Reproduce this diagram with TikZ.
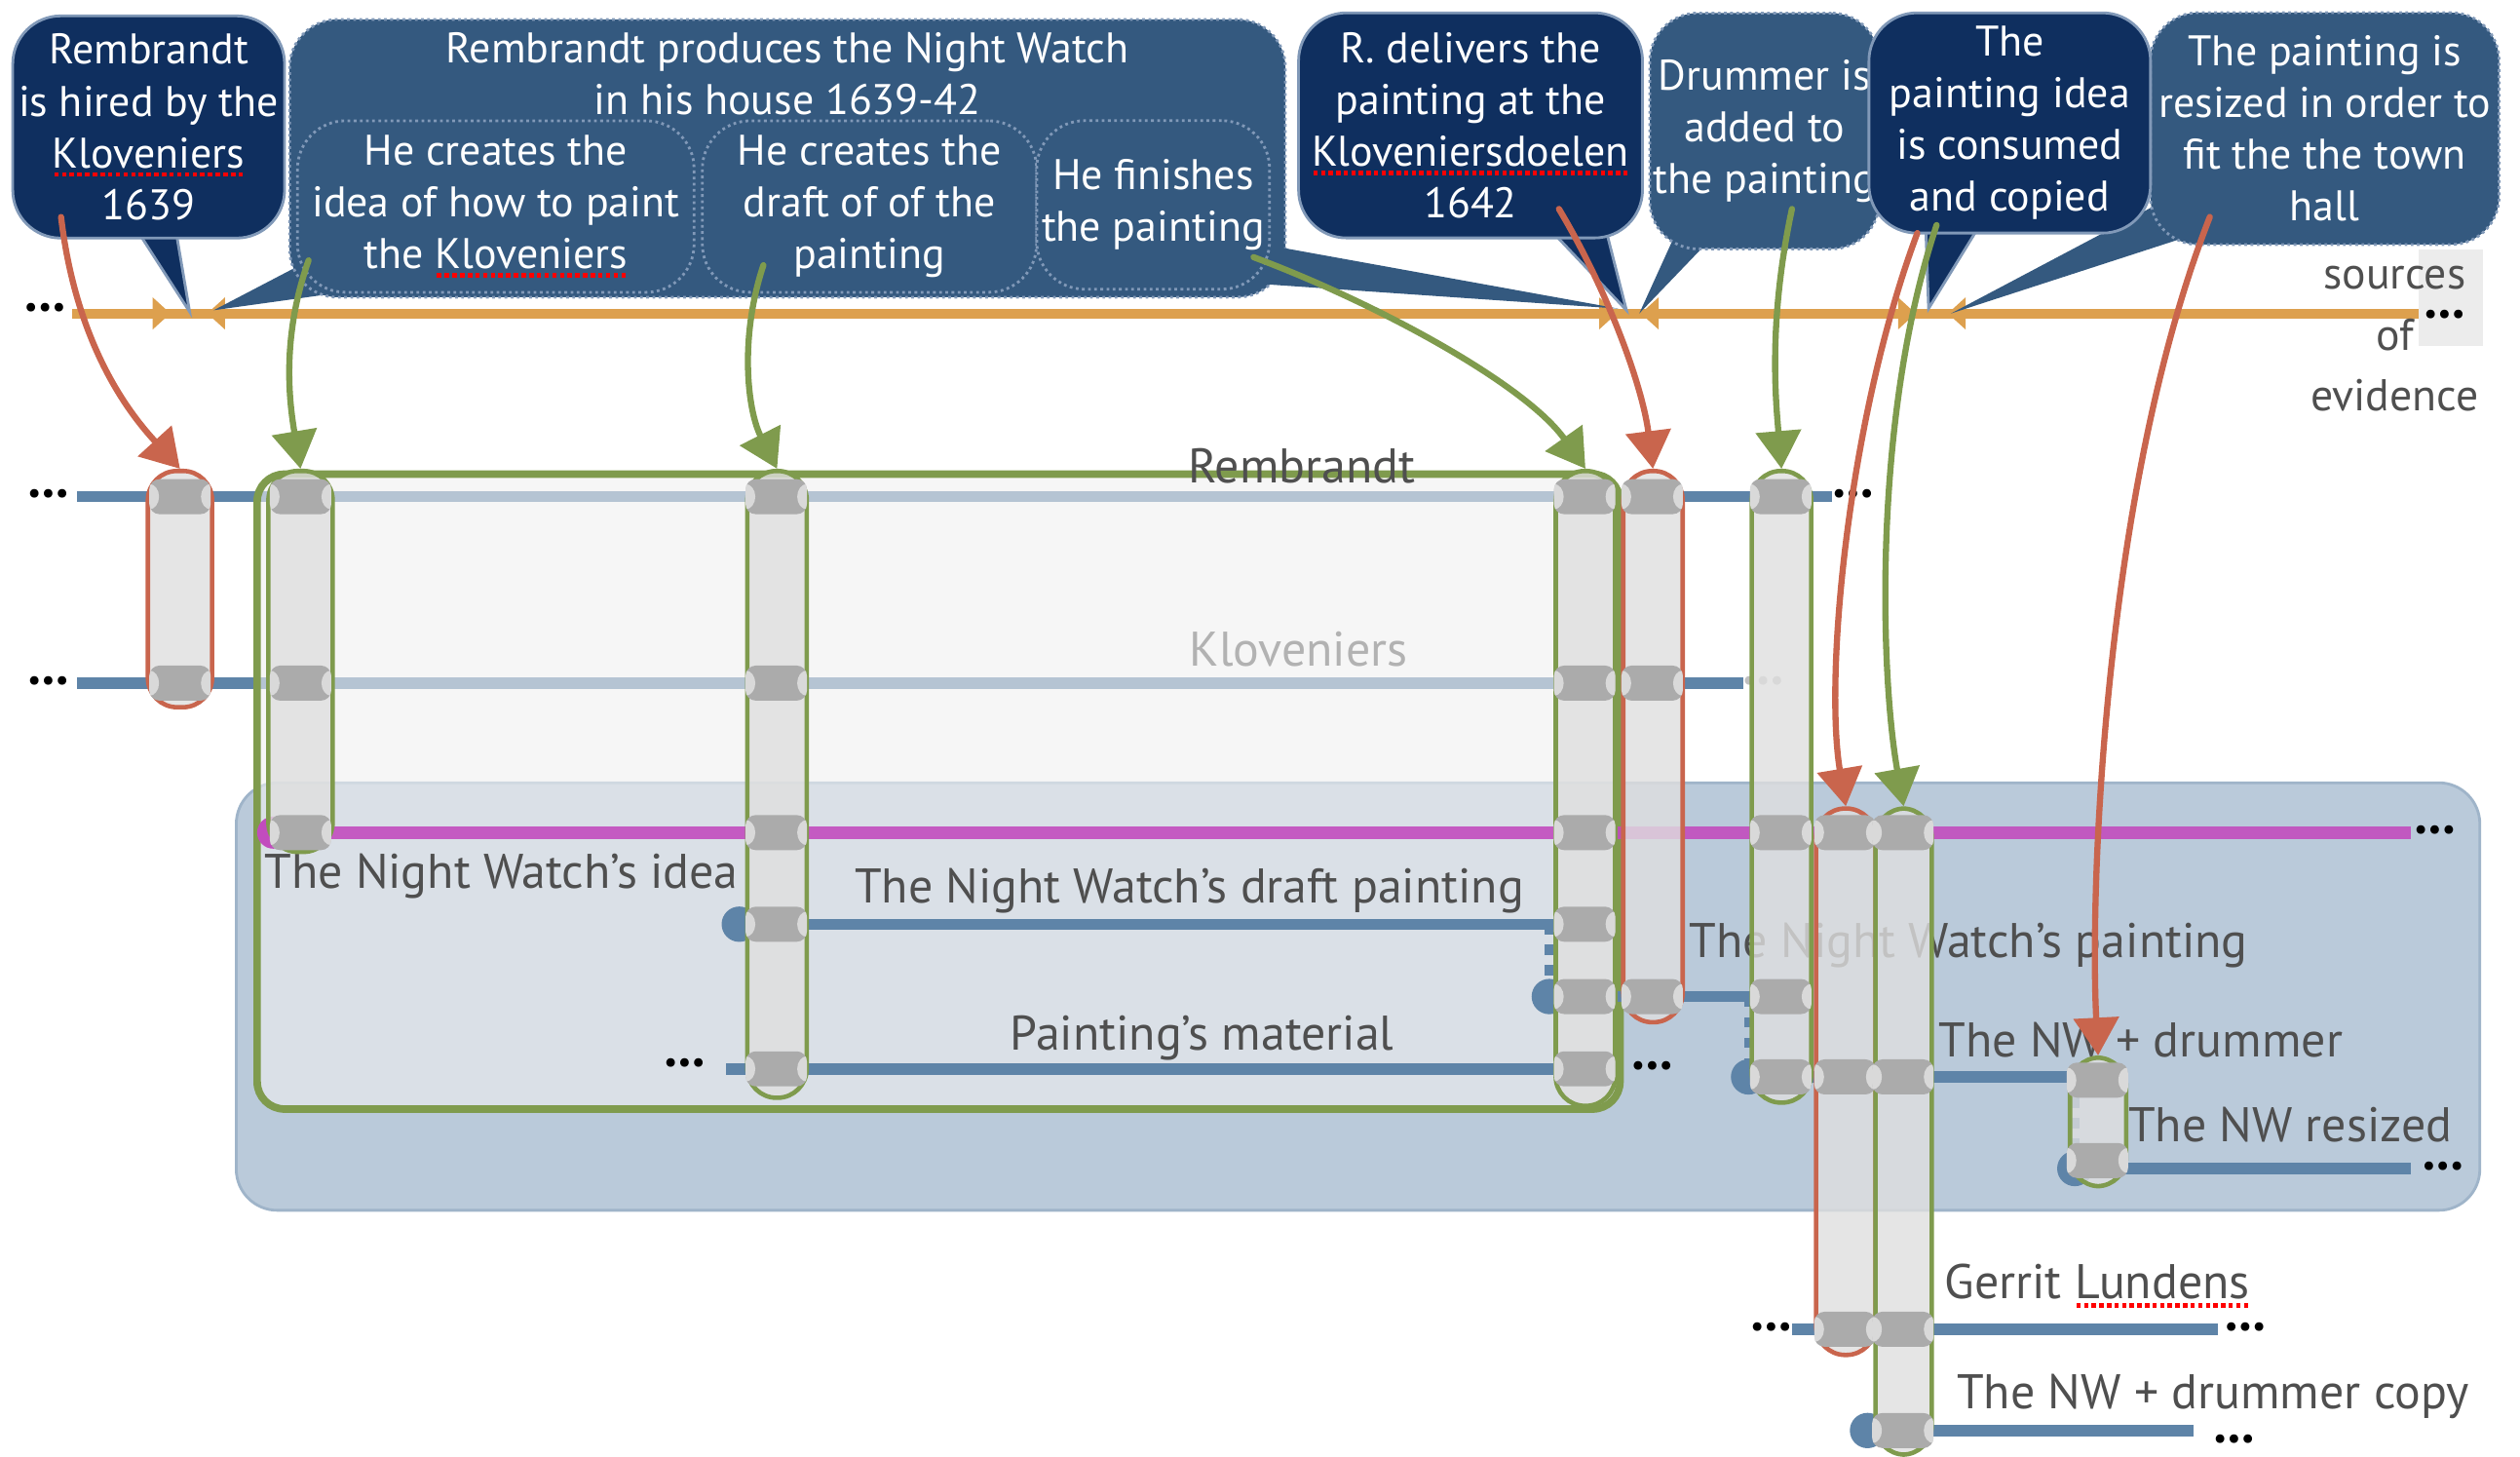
\documentclass[tikz,border=0pt]{standalone}
\usepackage{fontspec}
\setmainfont{PT Sans}
\usetikzlibrary{calc,positioning,fit,arrows.meta}

\definecolor{navybub}{HTML}{0F2F5F}
\definecolor{midbub}{HTML}{34597F}
\definecolor{bubedge}{HTML}{8199B8}
\definecolor{srcorange}{HTML}{DDA04E}
\definecolor{tlblue}{HTML}{5E84A8}
\definecolor{nwpink}{HTML}{C24CBE}
\definecolor{regblue}{HTML}{BACADA}
\definecolor{regedge}{HTML}{9FB4C9}
\definecolor{evgreen}{HTML}{7F9B4D}
\definecolor{evred}{HTML}{C9654D}
\definecolor{labgray}{HTML}{4F4F4F}
\definecolor{spoolgray}{HTML}{ABABAB}

% red dotted marks under unknown words
\newcommand\squig[2]{\setbox0\hbox{#2}\rlap{\color{red}\raisebox{-2.6pt}{\hbox to \wd0{\xleaders\hbox to 2.2pt{\hss\rule{1.3pt}{1.3pt}\hss}\hfill}}}\textcolor{#1}{#2}}

\tikzset{
    >={Triangle[length=11pt,width=13pt]},
    bubtext/.style={
        font=\fontsize{12.5}{15.1}\selectfont,
        text=white,
        align=center,
        inner sep=1pt
    },
    darkbubble/.style={
        bubtext,
        rectangle,
        rounded corners=14pt,
        fill=navybub,
        draw=bubedge, line width=.8pt
    },
    midbubble/.style={
        bubtext,
        rectangle,
        rounded corners=14pt,
        fill=midbub,
        draw=bubedge, densely dotted, line width=.8pt
    },
    darktail/.style={fill=navybub, draw=bubedge, line width=.8pt},
    midtail/.style={fill=midbub},
    srcline/.style={draw=srcorange, line width=2.8pt},
    srcmark/.style={fill=srcorange},
    timeline/.style={draw=tlblue, line width=3.3pt},
    tlstart/.style={fill=tlblue},
    tldash/.style={draw=tlblue, line width=2.5pt, dash pattern=on 3pt off 3pt},
    idealine/.style={draw=nwpink, line width=3.6pt, opacity=.9},
    tllabel/.style={font=\fontsize{14.2}{16}\selectfont, text=labgray, inner sep=0},
    more/.style={font=\fontsize{9}{9}\selectfont, inner sep=0},
    region/.style={fill=regblue, draw=regedge, line width=.8pt, rounded corners=12pt},
    prodbox/.style={
        rectangle,
        rounded corners=8pt,
        inner sep=0,
        draw=evgreen, line width=2.2pt,
        fill=gray!12, fill opacity=.6
    },
    colbox/.style={
        rectangle,
        rounded corners=.3cm,
        inner sep=0,
        line width=1.3pt,
        fill=gray!25, fill opacity=.8
    },
    redcol/.style={colbox, draw=evred},
    greencol/.style={colbox, draw=evgreen},
    spool/.style={
        rectangle,
        rounded corners=3pt,
        inner sep=0,
        fill=spoolgray,
        minimum width=.63cm,
        minimum height=.36cm,
        path picture={
            \fill[white, opacity=.55] (path picture bounding box.west) ellipse (.1cm and .13cm);
            \fill[white, opacity=.55] (path picture bounding box.east) ellipse (.1cm and .13cm);
        }
    },
    evarrow/.style={->, line width=1.8pt, line cap=round},
    redarrow/.style={evarrow, draw=evred},
    greenarrow/.style={evarrow, draw=evgreen}
}

\begin{document}
\begin{tikzpicture}[x=0.016492cm, y=-0.016492cm]
\useasboundingbox (0,0) rectangle (1568,906);

% sources of evidence
\fill[gray!15] (1505,155) rectangle (1545,215);
\coordinate (srcL) at (45,195);
\coordinate (srcR) at (1505,195);
\draw[srcline] (srcL) -- (srcR);
\foreach \a/\b in {104/131,1004/1023,1190/1214} {
    \fill[srcmark] (\a-9,185) -- (\a+2,195) -- (\a-9,205) -- cycle;
    \fill[srcmark] (\b+9,185) -- (\b-2,195) -- (\b+9,205) -- cycle;
}
\node[more] (srcdotsL) at (28,193) {\textbullet\textbullet\textbullet};
\node[more] (srcdotsR) at (1521,197) {\textbullet\textbullet\textbullet};
\node[tllabel, align=center, font=\fontsize{13}{17.8}\selectfont] (srclab) at (1490,211) {sources\\of\\evidence};

\coordinate (t1) at (118,194);
\coordinate (t2) at (133,193);
\coordinate (t3) at (1007,192);
\coordinate (t4) at (1012,193);
\coordinate (t5) at (1020,195);
\coordinate (t6) at (1200,192);
\coordinate (t7) at (1214,195);

% production bubble
\path[midtail] (200,158) -- (t2) -- (212,182) -- cycle;
\node[midbubble, minimum width=10.22cm, minimum height=2.85cm] (bProd) at (490,98.5) {};
\node[bubtext, below=3pt of bProd.north] (bProdText) {Rembrandt produces the Night Watch\\in his house 1639-42};
\node[midbubble, minimum width=4.07cm, minimum height=1.76cm] (bIdea) at (308.5,128.5) {He creates the\\idea of how to paint\\the \squig{white}{Kloveniers}};
\node[midbubble, minimum width=3.43cm, minimum height=1.76cm] (bDraft) at (541,128.5) {He creates the\\draft of of the\\painting};
\path[midtail] (775,150) -- (t3) -- (775,176) -- cycle;
\node[midbubble, minimum width=2.39cm, minimum height=1.73cm] (bFinish) at (717.5,127.5) {He finishes\\the painting};

% the other bubbles
\path[darktail] (80,135) -- (t1) -- (108,135) -- cycle;
\node[darkbubble, minimum width=2.79cm, minimum height=2.28cm] (bHired) at (92.5,79) {Rembrandt\\is hired by the\\\squig{white}{Kloveniers}\\1639};
\path[midtail] (1045,140) -- (t5) -- (1068,145) -- cycle;
\node[midbubble, minimum width=2.31cm, minimum height=2.42cm] (bDrum) at (1098,81.5) {Drummer is\\added to\\the painting};
\path[midtail] (1352,122) -- (t7) -- (1368,145) -- cycle;
\node[midbubble, minimum width=3.58cm, minimum height=2.38cm] (bResize) at (1446.5,80) {The painting is\\resized in order to\\fit the the town\\hall};
\path[darktail] (960,138) -- (t4) -- (998,138) -- cycle;
\node[darkbubble, minimum width=3.53cm, minimum height=2.31cm] (bDeliver) at (915,78) {R. delivers the\\painting at the\\\squig{white}{Kloveniersdoelen}\\1642};
\path[darktail] (1198,135) -- (t6) -- (1235,135) -- cycle;
\node[darkbubble, minimum width=2.89cm, minimum height=2.26cm] (bCopy) at (1250.5,76.5) {The\\painting idea\\is consumed\\and copied};

% Night Watch region
\draw[region] (147,487) rectangle (1543,753);

% actors
\coordinate (rembL) at (48,309);
\coordinate (rembR) at (1140,309);
\draw[timeline] (rembL) -- (rembR);
\node[more] (rembdotsL) at (30,309) {\textbullet\textbullet\textbullet};
\node[more] (rembdotsR) at (1153,309) {\textbullet\textbullet\textbullet};
\coordinate (klovL) at (48,425);
\coordinate (klovR) at (1085,425);
\draw[timeline] (klovL) -- (klovR);
\node[more] (klovdotsL) at (30,425) {\textbullet\textbullet\textbullet};
\node[more, text=gray!50] (klovdotsR) at (1097,425) {\textbullet\textbullet\textbullet};

\node[prodbox, fit={(160,295) (1008,690)}] (prod) {};

% things
\coordinate (ideaL) at (170,518);
\coordinate (ideaR) at (1500,518);
\fill[nwpink] (ideaL) circle (10);
\draw[idealine] (ideaL) -- (ideaR);
\node[more] (ideadots) at (1515,518) {\textbullet\textbullet\textbullet};

\coordinate (draftL) at (460,575);
\coordinate (draftR) at (975,575);
\fill[tlstart] (draftL) circle (11);
\draw[timeline] (draftL) -- (draftR);

\coordinate (paintL) at (964,620);
\coordinate (paintR) at (1092,620);
\draw[tldash] (draftR -| paintL) -- (paintL);
\fill[tlstart] (paintL) circle (11);
\draw[timeline] (paintL) -- (paintR);

\coordinate (matL) at (452,665);
\coordinate (matR) at (1005,665);
\draw[timeline] (matL) -- (matR);
\node[more] (matdotsL) at (426,663) {\textbullet\textbullet\textbullet};
\node[more] (matdotsR) at (1028,665) {\textbullet\textbullet\textbullet};

\coordinate (drumL) at (1088,670);
\coordinate (drumR) at (1290,670);
\draw[tldash] (paintR -| drumL) -- (drumL);
\fill[tlstart] (drumL) circle (11);
\draw[timeline] (drumL) -- (drumR);

\coordinate (sizeL) at (1291,727);
\coordinate (sizeR) at (1500,727);
\draw[tldash] (drumR -| sizeL) -- (sizeL);
\fill[tlstart] (sizeL) circle (11);
\draw[timeline] (sizeL) -- (sizeR);
\node[more] (sizedots) at (1520,727) {\textbullet\textbullet\textbullet};

\coordinate (lundL) at (1115,827);
\coordinate (lundR) at (1380,827);
\draw[timeline] (lundL) -- (lundR);
\node[more] (lunddotsL) at (1102,827) {\textbullet\textbullet\textbullet};
\node[more] (lunddotsR) at (1397,827) {\textbullet\textbullet\textbullet};

\coordinate (copyL) at (1162,890);
\coordinate (copyR) at (1365,890);
\fill[tlstart] (copyL) circle (11);
\draw[timeline] (copyL) -- (copyR);
\node[more] (copydots) at (1390,897) {\textbullet\textbullet\textbullet};

% labels
\node[tllabel] (lRemb) at (810,290) {Rembrandt};
\node[tllabel, text=gray!60] (lKlov) at (808,404) {Kloveniers};
\node[tllabel] (lIdea) at (312,545) {The Night Watch’s idea};
\node[tllabel] (lDraft) at (740,554) {The Night Watch’s draft painting};
\node[tllabel] (lPaint) at (1225,588) {The Night Watch’s painting};
\node[tllabel] (lMat) at (748,646) {Painting’s material};
\node[tllabel] (lDrum) at (1332,647) {The NW + drummer};
\node[tllabel] (lSize) at (1425,700) {The NW resized};
\node[tllabel] (lLund) at (1305,800) {Gerrit \squig{labgray}{Lundens}};
\node[tllabel] (lCopy) at (1377,869) {The NW + drummer copy};

% events
\node[redcol, fit={(92,293) (132,440)}] (c1) {};
\node[greencol, fit={(167,293) (207,530)}] (c2) {};
\node[greencol, fit={(465,293) (502,683)}] (c3) {};
\node[greencol, fit={(968,293) (1005,688)}] (c4) {};
\node[redcol, fit={(1010,293) (1047,636)}] (c5) {};
\node[greencol, fit={(1090,293) (1127,686)}] (c6) {};
\node[redcol, fit={(1130,503) (1167,843)}] (c7) {};
\node[greencol, fit={(1167,503) (1202,905)}] (c8) {};
\node[greencol, fit={(1288,658) (1323,738)}] (c9) {};

\foreach \c/\x/\ys in {1/112/{309,425}, 2/187/{309,425,518}, 3/483/{309,425,518,575,665},
        4/986/{309,425,518,575,620,665}, 5/1028/{309,425,620}, 6/1108/{309,518,620,670},
        7/1148/{518,670,827}, 8/1184/{518,670,827,890}, 9/1305/{672,722}}
    \foreach \y in \ys
        \node[spool] (sp\c-\y) at (\x,\y) {};

% from the sources to the events
\coordinate (r1s) at (38,135);
\coordinate (r2s) at (970,130);
\coordinate (r3s) at (1193,145);
\coordinate (r4s) at (1375,135);
\coordinate (g1s) at (192,162);
\coordinate (g2s) at (475,165);
\coordinate (g3s) at (780,160);
\coordinate (g4s) at (1115,130);
\coordinate (g5s) at (1205,140);
\draw[redarrow] (r1s) .. controls (48,220) and (85,262) .. (c1.north);
\draw[redarrow] (r2s) .. controls (1000,180) and (1022,240) .. (c5.north);
\draw[redarrow] (r3s) .. controls (1150,260) and (1135,420) .. (c7.north);
\draw[redarrow] (r4s) .. controls (1310,300) and (1300,550) .. (c9.north);
\draw[greenarrow] (g1s) .. controls (175,210) and (180,250) .. (c2.north);
\draw[greenarrow] (g2s) .. controls (460,210) and (465,255) .. (c3.north);
\draw[greenarrow] (g3s) .. controls (860,190) and (950,240) .. (c4.north);
\draw[greenarrow] (g4s) .. controls (1100,200) and (1105,250) .. (c6.north);
\draw[greenarrow] (g5s) .. controls (1165,260) and (1170,420) .. (c8.north);
\end{tikzpicture}
\end{document}
